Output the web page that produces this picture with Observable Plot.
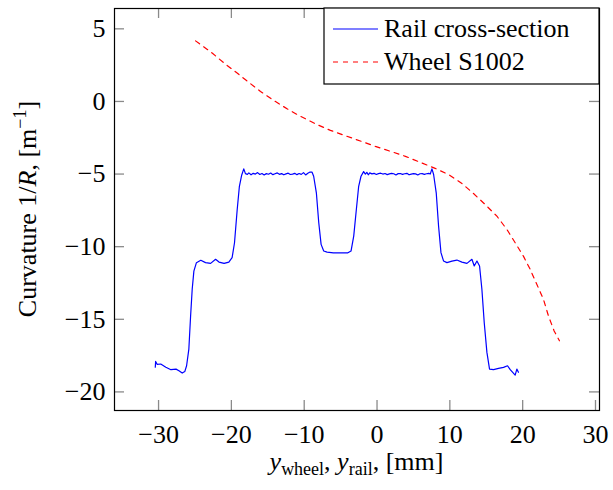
<!DOCTYPE html>
<html>
<head>
<meta charset="utf-8">
<script src="https://cdn.jsdelivr.net/npm/d3@7"></script>
<script src="https://cdn.jsdelivr.net/npm/@observablehq/plot@0.6"></script>
<style>
  body { margin: 0; background: white; }
  #chart { position: relative; width: 613px; height: 490px; }
  #chart svg, #chart svg text { font-family: "Liberation Serif", "DejaVu Serif", serif !important; }
</style>
</head>
<body>
<div id="chart"></div>
<script>
// ---- data ----
const xTicks = [-30, -20, -10, 0, 10, 20, 30];
const yTicks = [-20, -15, -10, -5, 0, 5];

const railY = [-30.45, -30.4, -30.2, -29.7, -29.0, -28.3, -27.6, -27.2, -26.75, -26.4, -26.15, -25.84, -25.6, -25.38, -25.15, -24.8, -24.2, -23.55, -22.85, -22.17, -21.7, -21.0, -20.35, -19.9, -19.57, -19.2, -18.9, -18.6, -18.3,
  -18.07, -17.8, -17.6, -17.3, -17.0, -16.7, -16.4, -16.1, -15.8, -15.5, -15.2, -14.9, -14.6, -14.3, -14.0, -13.7, -13.4, -13.1, -12.8, -12.5, -12.2, -11.9, -11.6, -11.3, -11.0, -10.7, -10.4, -10.1, -9.8, -9.5, -9.2, -8.92,
  -8.7, -8.33, -8.0, -7.68, -7.32, -6.86, -6.0, -5.0, -4.0, -3.57, -3.2, -2.84, -2.52, -2.2,
  -1.84, -1.6, -1.4, -1.2, -1.0, -0.7, -0.4, -0.1, 0.2, 0.5, 0.8, 1.1, 1.4, 1.7, 2.0, 2.3, 2.6, 2.9, 3.2, 3.5, 3.8, 4.1, 4.4, 4.7, 5.0, 5.3, 5.6, 5.9, 6.2, 6.5, 6.8, 7.1, 7.31, 7.54,
  7.77, 8.13, 8.45, 8.78, 9.14, 9.6, 10.29, 10.97, 11.66, 12.35, 13.03, 13.35, 13.72, 14.08, 14.4, 14.72, 15.09, 15.45, 16.0, 16.69, 17.37, 17.92, 18.29, 18.97, 19.2, 19.42];
const railK = [-18.3, -17.9, -18.1, -18.08, -18.3, -18.47, -18.43, -18.54, -18.7, -18.6, -18.2, -17.05, -14.77, -12.93, -11.68, -11.1, -10.94, -11.1, -11.15, -10.87, -11.06, -11.15, -11.06, -10.76, -9.73, -7.44, -5.84, -5.1, -4.64,
  -4.97, -5.02, -4.92, -5.05, -4.95, -5.0, -4.9, -5.03, -4.96, -5.06, -4.97, -5.01, -4.93, -5.04, -4.98, -4.92, -5.02, -4.97, -5.05, -4.99, -4.94, -5.03, -5.0, -4.95, -5.04, -4.96, -5.02, -4.9, -5.06, -4.94, -4.86, -4.87,
  -5.15, -6.29, -8.35, -9.84, -10.3, -10.37, -10.42, -10.43, -10.42, -10.3, -9.27, -7.44, -5.84, -5.15,
  -4.83, -5.0, -4.88, -5.05, -4.92, -4.99, -4.95, -5.03, -4.97, -4.94, -5.0, -4.96, -5.04, -4.99, -4.95, -4.98, -5.06, -4.97, -4.96, -5.02, -4.98, -4.95, -5.05, -5.0, -4.97, -4.99, -5.06, -4.98, -4.97, -5.02, -4.98, -4.95, -5.0, -4.64,
  -5.03, -6.29, -8.58, -10.41, -10.99, -11.1, -10.99, -10.92, -11.06, -11.15, -10.87, -11.33, -10.99, -11.33, -12.93, -15.22, -17.28, -18.43, -18.47, -18.38, -18.31, -18.2, -18.47, -18.84, -18.43, -18.65];

const wheelY = [-24.92, -22.6, -21.0, -19.3, -17.6, -16.0, -14.2, -12.3, -10.6, -8.5, -6.4, -4.35, -2.3, -0.23, 1.83, 3.9, 5.94, 7.9, 9.82, 11.66, 13.25, 14.86, 16.46, 17.83, 18.97, 20.1, 21.03, 21.94, 22.85, 23.54, 24.32, 25.05];
const wheelK = [4.17, 3.32, 2.64, 1.99, 1.31, 0.69, 0.07, -0.52, -1.0, -1.53, -1.99, -2.36, -2.72, -3.09, -3.43, -3.78, -4.19, -4.59, -5.03, -5.65, -6.34, -7.1, -7.9, -8.81, -9.73, -10.65, -11.56, -12.59, -13.62, -14.77, -15.8, -16.48];

const seriesNames = ["Rail cross-section", "Wheel S1002"];
const seriesColors = ["#0000ff", "#ff0000"];

const rail = railY.map((x, i) => ({x, k: railK[i]}));
const wheel = wheelY.map((x, i) => ({x, k: wheelK[i]}));

const fmt = d => (d < 0 ? "\u2212" + (-d) : String(d));

const W = 613, H = 490;
const mL = 114, mR = 14, mT = 8, mB = 80;
const innerW = W - mL - mR, innerH = H - mT - mB;
const xDom = [-36.05, 30.55], yDom = [-21.28, 6.4];
const tickLen = 10;
// tick length expressed in data units of each scale
const tx = tickLen * (xDom[1] - xDom[0]) / innerW;
const ty = tickLen * (yDom[1] - yDom[0]) / innerH;
const tickStyle = {stroke: "#8a8a8a", strokeWidth: 1.3};

const chart = Plot.plot({
  width: W, height: H,
  marginLeft: mL, marginRight: mR, marginTop: mT, marginBottom: mB,
  style: {fontFamily: "'Liberation Serif', 'DejaVu Serif', serif", fontSize: "26px", color: "black", background: "white"},
  x: {domain: xDom},
  y: {domain: yDom},
  marks: [
    Plot.ruleX(xTicks, {x: d => d, y1: yDom[0], y2: yDom[0] + ty, ...tickStyle}),
    Plot.ruleX(xTicks, {x: d => d, y1: yDom[1] - ty, y2: yDom[1], ...tickStyle}),
    Plot.ruleY(yTicks, {y: d => d, x1: xDom[0], x2: xDom[0] + tx, ...tickStyle}),
    Plot.ruleY(yTicks, {y: d => d, x1: xDom[1] - tx, x2: xDom[1], ...tickStyle}),
    Plot.line(rail, {x: "x", y: "k", stroke: seriesColors[0], strokeWidth: 1.2}),
    Plot.line(wheel, {x: "x", y: "k", stroke: seriesColors[1], strokeWidth: 1.2, strokeDasharray: "5,5"}),
    Plot.frame({stroke: "black", strokeWidth: 1.2}),
    Plot.axisX(xTicks, {tickSize: 0, tickPadding: 14, tickFormat: fmt, label: null, fontSize: 26}),
    Plot.axisY(yTicks, {tickSize: 0, tickPadding: 9, tickFormat: fmt, label: null, fontSize: 26})
  ]
});

document.getElementById("chart").appendChild(chart);

// ---- axis labels and legend (text) ----
const svg = d3.select(chart);
const font = "'Liberation Serif', 'DejaVu Serif', serif";

// y label
const yl = svg.append("text")
  .attr("transform", `translate(36, ${mT + innerH / 2}) rotate(-90)`)
  .attr("text-anchor", "middle")
  .style("font-family", font).style("font-size", "26px").attr("fill", "black");
yl.append("tspan").text("Curvature 1/");
yl.append("tspan").attr("font-style", "italic").text("R");
yl.append("tspan").text(", [m");
yl.append("tspan").style("font-size", "18px").attr("dy", -10).text("\u22121");
yl.append("tspan").attr("dy", 10).text("]");

// x label
const xl = svg.append("text")
  .attr("x", mL + innerW / 2).attr("y", 470)
  .attr("text-anchor", "middle")
  .style("font-family", font).style("font-size", "26px").attr("fill", "black");
xl.append("tspan").attr("font-style", "italic").text("y");
xl.append("tspan").style("font-size", "18px").attr("dy", 5).text("wheel");
xl.append("tspan").attr("dy", -5).text(", ");
xl.append("tspan").attr("font-style", "italic").text("y");
xl.append("tspan").style("font-size", "18px").attr("dy", 5).text("rail");
xl.append("tspan").attr("dy", -5).text(", [mm]");

// legend
const lg = svg.append("g");
lg.append("rect").attr("x", 324).attr("y", 8).attr("width", 275).attr("height", 76)
  .attr("fill", "white").attr("stroke", "black").attr("stroke-width", 1.2);
seriesNames.forEach((name, i) => {
  const cy = 29 + i * 33;
  lg.append("line").attr("x1", 333).attr("x2", 378).attr("y1", cy).attr("y2", cy)
    .attr("stroke", seriesColors[i]).attr("stroke-width", 1.2)
    .attr("stroke-dasharray", i === 1 ? "5,5" : null);
  lg.append("text").attr("x", 384).attr("y", cy + 8)
    .attr("text-anchor", "start")
    .style("font-family", font).style("font-size", "26px").attr("fill", "black").text(name);
});
</script>
</body>
</html>
